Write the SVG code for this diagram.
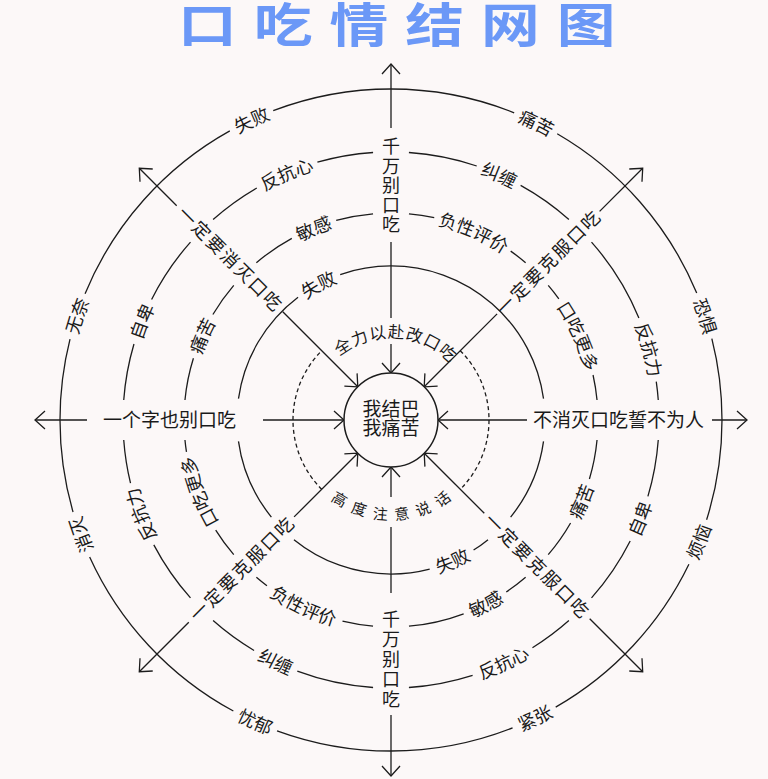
<svg xmlns="http://www.w3.org/2000/svg" width="768" height="779" viewBox="0 0 768 779">
<defs>
<style>
.ln{stroke:#1c1c1c;stroke-width:1.3;fill:none}
.ring{stroke:#1c1c1c;stroke-width:1.3;fill:none}
.t{font-family:"Noto Sans CJK SC","Noto Sans CJK JP",sans-serif;font-size:18px;fill:#1a1a1a;text-anchor:middle}
.ct{font-family:"Noto Sans CJK SC","Noto Sans CJK JP",sans-serif;font-size:19px;fill:#1a1a1a;text-anchor:middle}
</style>
<marker id="arr" viewBox="-12 -11 14 22" markerWidth="14" markerHeight="22" refX="0" refY="0" orient="auto" markerUnits="userSpaceOnUse">
<path d="M-10,-9 L0,0 L-10,9" fill="none" stroke="#1c1c1c" stroke-width="1.3"/>
</marker>
<path id="cw324" d="M391,744 A324,324 0 1 1 391,96 A324,324 0 1 1 391,744"/>
<path id="cw261" d="M391,681 A261,261 0 1 1 391,159 A261,261 0 1 1 391,681"/>
<path id="cw200" d="M391,620 A200,200 0 1 1 391,220 A200,200 0 1 1 391,620"/>
<path id="cw147" d="M391,567 A147,147 0 1 1 391,273 A147,147 0 1 1 391,567"/>
<path id="cw82" d="M391,502 A82,82 0 1 1 391,338 A82,82 0 1 1 391,502"/>
<path id="ccw338" d="M391,82 A338,338 0 1 0 391,758 A338,338 0 1 0 391,82"/>
<path id="ccw275" d="M391,145 A275,275 0 1 0 391,695 A275,275 0 1 0 391,145"/>
<path id="ccw214" d="M391,206 A214,214 0 1 0 391,634 A214,214 0 1 0 391,206"/>
<path id="ccw161" d="M391,259 A161,161 0 1 0 391,581 A161,161 0 1 0 391,259"/>
<path id="ccw100" d="M391,320 A100,100 0 1 0 391,520 A100,100 0 1 0 391,320"/>
</defs>
<rect width="768" height="779" fill="#fcf8f8"/>

<g id="title">
<text transform="scale(1.25 1)" x="142.4" y="42" font-family="'Noto Sans CJK SC','Noto Sans CJK JP',sans-serif" font-size="47" font-weight="700" fill="#6b98f7" textLength="350" lengthAdjust="spacing">口吃情结网图</text>
</g>

<g id="rings">
<path id="ring-outer" class="ring" pathLength="360" d="M722,420 A331,331 0 1 1 60,420 A331,331 0 1 1 722,420" stroke-dasharray="17.55 8.3 34.3 8.3 41.7 8.3 37.1 8.3 30.3 8.3 38.4 8.3 42.7 8.3 37.3 8.3 14.25 0"/>
<path id="ring-4" class="ring" pathLength="360" d="M659,420 A268,268 0 1 1 123,420 A268,268 0 1 1 659,420" stroke-dasharray="12.29 10.26 14.75 6.84 9.72 14.12 13.89 7.7 16.62 10.26 10.85 6.84 13.82 14.12 9.36 8.56 12.19 10.26 14.85 6.84 11.52 14.12 12.09 7.7 14.82 10.26 12.65 6.84 19.22 14.12 3.96 8.56" stroke-dashoffset="355.72"/>
<path id="ring-3" class="ring" pathLength="360" d="M598,420 A207,207 0 1 1 184,420 A207,207 0 1 1 598,420" stroke-dasharray="11.02 13.28 10.73 8.86 6.73 13.28 15.58 9.96 8.59 23.26 3.74 8.86 8.44 23.26 3.33 11.08 11.82 13.28 9.93 8.86 11.93 13.28 10.38 9.96 7.09 23.26 5.24 8.86 4.74 23.26 7.03 11.08" stroke-dashoffset="354.46"/>
<path id="ring-2" class="ring" pathLength="360" d="M545,420 A154,154 0 1 1 237,420 A154,154 0 1 1 545,420" stroke-dasharray="31.05 11.9 6.62 17.86 53.62 11.9 31.05 16 44.87 17.86 101.27 16" stroke-dashoffset="352"/>
<g id="ring-dashed">
<path class="ring" d="M460.3,350.7 A98,98 0 0 1 460.3,489.3" stroke-dasharray="4 3"/>
<path class="ring" d="M321.7,489.3 A98,98 0 0 1 321.7,350.7" stroke-dasharray="4 3"/>
</g>
</g>

<g id="connectors">
<path class="ln" d="M391,242 L391,318"/>
<path class="ln" d="M391,344 L391,373" marker-end="url(#arr)"/>
<path class="ln" d="M391,128 L391,64" marker-end="url(#arr)"/>
<path class="ln" d="M391,497 L391,467" marker-end="url(#arr)"/>
<path class="ln" d="M391,527 L391,593"/>
<path class="ln" d="M391,715 L391,776" marker-end="url(#arr)"/>
<path class="ln" d="M263,420 L344,420" marker-end="url(#arr)"/>
<path class="ln" d="M87,420 L35,420" marker-end="url(#arr)"/>
<path class="ln" d="M527,420 L438,420" marker-end="url(#arr)"/>
<path class="ln" d="M712,420 L747,420" marker-end="url(#arr)"/>
<path class="ln" d="M282.8,311.8 L357.8,386.8" marker-end="url(#arr)"/>
<path class="ln" d="M176.7,205.7 L139.3,168.3" marker-end="url(#arr)"/>
<path class="ln" d="M497.1,313.9 L424.2,386.8" marker-end="url(#arr)"/>
<path class="ln" d="M599.6,211.4 L642.7,168.3" marker-end="url(#arr)"/>
<path class="ln" d="M294.1,516.9 L357.8,453.2" marker-end="url(#arr)"/>
<path class="ln" d="M188.8,622.2 L139.3,671.7" marker-end="url(#arr)"/>
<path class="ln" d="M484.3,513.3 L424.2,453.2" marker-end="url(#arr)"/>
<path class="ln" d="M589.7,618.7 L642.7,671.7" marker-end="url(#arr)"/>
</g>

<g id="node-center">
<circle cx="391" cy="420" r="47" fill="#fcf8f8" stroke="#1c1c1c" stroke-width="1.5"/>
<text class="ct" x="391" y="416">我结巴</text>
<text class="ct" x="391" y="435">我痛苦</text>
</g>

<g id="labels-outer">
<text class="t"><textPath href="#cw324" startOffset="876.5">失败</textPath></text>
<text class="t"><textPath href="#cw324" startOffset="1164.9">痛苦</textPath></text>
<text class="t"><textPath href="#cw324" startOffset="1422.8">恐惧</textPath></text>
<text class="t"><textPath href="#ccw338" startOffset="1464.8">烦恼</textPath></text>
<text class="t"><textPath href="#ccw338" startOffset="1213.5">紧张</textPath></text>
<text class="t"><textPath href="#ccw338" startOffset="918.5">忧郁</textPath></text>
<text class="t"><textPath href="#cw324" startOffset="394.1">消灭</textPath></text>
<text class="t"><textPath href="#cw324" startOffset="612.4">无奈</textPath></text>
</g>

<g id="labels-ring4">
<text class="t"><textPath href="#cw261" startOffset="715.2">反抗心</textPath></text>
<text class="t"><textPath href="#cw261" startOffset="928.4">纠缠</textPath></text>
<text class="t"><textPath href="#cw261" startOffset="1160.2">反抗力</textPath></text>
<text class="t"><textPath href="#ccw275" startOffset="1191.8">自卑</textPath></text>
<text class="t"><textPath href="#ccw275" startOffset="983.0">反抗心</textPath></text>
<text class="t"><textPath href="#ccw275" startOffset="741.1">纠缠</textPath></text>
<text class="t"><textPath href="#cw261" startOffset="315.7">反抗力</textPath></text>
<text class="t"><textPath href="#cw261" startOffset="508.4">自卑</textPath></text>
</g>

<g id="labels-ring3">
<text class="t"><textPath href="#cw200" startOffset="551.5">敏感</textPath></text>
<text class="t"><textPath href="#cw200" startOffset="711.0">负性评价</textPath></text>
<text class="t"><textPath href="#cw200" startOffset="858.0">口吃更多</textPath></text>
<text class="t"><textPath href="#ccw214" startOffset="921.8">痛苦</textPath></text>
<text class="t"><textPath href="#ccw214" startOffset="773.9">敏感</textPath></text>
<text class="t"><textPath href="#ccw214" startOffset="578.2">负性评价</textPath></text>
<text class="t"><textPath href="#cw200" startOffset="242.6">口吃更多</textPath></text>
<text class="t"><textPath href="#cw200" startOffset="397.9">痛苦</textPath></text>
</g>

<g id="labels-ring2">
<text class="t"><textPath href="#cw147" startOffset="389.5">失败</textPath></text>
<text class="t"><textPath href="#ccw161" startOffset="571.8">失败</textPath></text>
</g>

<g id="labels-dashed">
<text class="t" style="font-size:16.5px;letter-spacing:1px"><textPath href="#cw82" startOffset="262.5">全力以赴改口吃</textPath></text>
<text class="t" style="font-size:15px;letter-spacing:8px"><textPath href="#ccw100" startOffset="318">高度注意说话</textPath></text>
</g>

<g id="label-top">
<text class="t" style="writing-mode:vertical-rl;letter-spacing:1.5px" x="391" y="186">千万别口吃</text>
</g>
<g id="label-bottom">
<text class="t" style="writing-mode:vertical-rl;letter-spacing:2px" x="391" y="660">千万别口吃</text>
</g>
<g id="label-left">
<text class="t" style="font-size:19px" x="169.5" y="426.5">一个字也别口吃</text>
</g>
<g id="label-right">
<text class="t" style="font-size:19px" x="618.5" y="426.5">不消灭口吃誓不为人</text>
</g>
<g id="label-ul">
<text class="t" style="letter-spacing:2px" transform="translate(229.8,258.8) rotate(45)" x="1" y="6.5">一定要消灭口吃</text>
</g>
<g id="label-ur">
<text class="t" style="letter-spacing:2px" transform="translate(548,263) rotate(-45)" x="1" y="6.5">一定要克服口吃</text>
</g>
<g id="label-ll">
<text class="t" style="letter-spacing:2px" transform="translate(241.8,569.2) rotate(-45)" x="1" y="6.5">一定要克服口吃</text>
</g>
<g id="label-lr">
<text class="t" style="letter-spacing:2px" transform="translate(536.7,565.7) rotate(45)" x="1" y="6.5">一定要克服口吃</text>
</g>
</svg>
